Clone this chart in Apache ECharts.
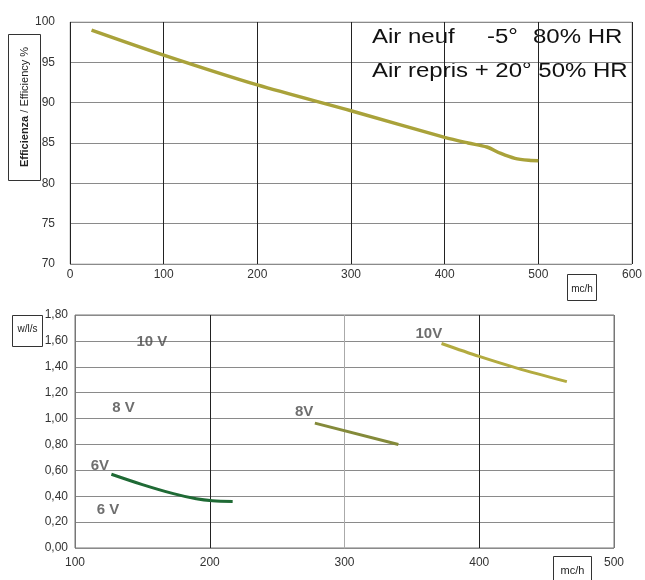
<!DOCTYPE html>
<html>
<head>
<meta charset="utf-8">
<script src="https://cdn.jsdelivr.net/npm/echarts@6/dist/echarts.min.js"></script>
<style>html,body{margin:0;padding:0;background:#fff}#c{width:645px;height:580px}</style>
</head>
<body>
<div id="c"></div>
<script>
// ---- Top chart: efficiency vs airflow ----
var effFlow = [23, 100, 200, 300, 400, 425, 445, 460, 475, 490, 500];
var effValue = [99.0, 95.9, 92.2, 89.0, 85.7, 85.0, 84.5, 83.7, 83.1, 82.85, 82.8];
var topXTicks = [0, 100, 200, 300, 400, 500, 600];
var topYTicks = [70, 75, 80, 85, 90, 95, 100];
var legendLine1 = ["Air neuf", "-5°", "80% HR"];
var legendLine2 = "Air repris + 20° 50% HR";

// ---- Bottom chart: specific power vs airflow ----
var v6Flow = [127, 150, 173, 190, 202, 217];
var v6Value = [0.57, 0.49, 0.42, 0.38, 0.365, 0.36];
var v8Flow = [278, 340];
var v8Value = [0.965, 0.80];
var v10Flow = [372, 400, 428, 465];
var v10Value = [1.58, 1.48, 1.39, 1.285];
var botXTicks = [100, 200, 300, 400, 500];
var botYTicks = [0, 0.2, 0.4, 0.6, 0.8, 1.0, 1.2, 1.4, 1.6, 1.8];
var noteText = ["10 V", "8 V", "6V", "6 V", "8V", "10V"];
var noteFlow = [157, 136, 118.5, 124.5, 270, 362.6];
var noteValue = [1.59, 1.08, 0.634, 0.294, 1.05, 1.654];

function zip(a, b) { return a.map(function (v, i) { return [v, b[i]]; }); }

var font = "'Liberation Sans', Arial, sans-serif";
var chart = echarts.init(document.getElementById('c'), null, { renderer: 'canvas' });

var legendFont = '20px ' + font;
chart.setOption({
  animation: false,
  backgroundColor: '#fff',
  grid: [
    { left: 70, top: 22, width: 564, height: 242, show: true, borderColor: '#bbb', borderWidth: 1, backgroundColor: 'transparent' },
    { left: 75, top: 315, width: 539, height: 233, show: true, borderColor: '#777', borderWidth: 1, backgroundColor: 'transparent' }
  ],
  xAxis: [
    {
      gridIndex: 0, type: 'value', min: topXTicks[0], max: topXTicks[topXTicks.length - 1], interval: 100,
      axisLine: { show: false }, axisTick: { show: false },
      axisLabel: { color: '#333', fontFamily: font, fontSize: 12, margin: 5 },
      splitLine: { show: true, lineStyle: { color: '#222', width: 1 } }
    },
    {
      gridIndex: 1, type: 'value', min: botXTicks[0], max: botXTicks[botXTicks.length - 1], interval: 100,
      axisLine: { show: false }, axisTick: { show: false },
      axisLabel: { color: '#333', fontFamily: font, fontSize: 12, margin: 9 },
      splitLine: { show: true, lineStyle: { color: ['#777', '#222', '#aaa', '#222', '#777'], width: 1 } }
    }
  ],
  yAxis: [
    {
      gridIndex: 0, type: 'value', min: topYTicks[0], max: topYTicks[topYTicks.length - 1], interval: 5,
      axisLine: { show: false }, axisTick: { show: false },
      axisLabel: { color: '#333', fontFamily: font, fontSize: 12, margin: 15 },
      splitLine: { show: true, lineStyle: { color: '#8a8a8a', width: 1 } }
    },
    {
      gridIndex: 1, type: 'value', min: botYTicks[0], max: botYTicks[botYTicks.length - 1], interval: 0.2,
      axisLine: { show: false }, axisTick: { show: false },
      axisLabel: {
        color: '#333', fontFamily: font, fontSize: 12, margin: 7,
        formatter: function (v) { return v.toFixed(2).replace('.', ','); }
      },
      splitLine: { show: true, lineStyle: { color: '#8a8a8a', width: 1 } }
    }
  ],
  series: [
    {
      type: 'line', xAxisIndex: 0, yAxisIndex: 0, data: zip(effFlow, effValue),
      smooth: 0.3, showSymbol: false, lineStyle: { color: '#a9a23a', width: 3.5 }
    },
    {
      type: 'line', xAxisIndex: 1, yAxisIndex: 1, data: zip(v6Flow, v6Value),
      smooth: 0.3, showSymbol: false, lineStyle: { color: '#1f6a35', width: 3 }
    },
    {
      type: 'line', xAxisIndex: 1, yAxisIndex: 1, data: zip(v8Flow, v8Value),
      smooth: 0.3, showSymbol: false, lineStyle: { color: '#848a3a', width: 3 }
    },
    {
      type: 'line', xAxisIndex: 1, yAxisIndex: 1, data: zip(v10Flow, v10Value),
      smooth: 0.3, showSymbol: false, lineStyle: { color: '#b3ab40', width: 3 }
    },
    {
      type: 'scatter', xAxisIndex: 1, yAxisIndex: 1, symbolSize: 0, silent: true,
      data: noteFlow.map(function (x, i) { return { value: [x, noteValue[i]], name: noteText[i] }; }),
      label: {
        show: true, position: 'inside', formatter: '{b}',
        fontFamily: font, fontWeight: 'bold', fontSize: 15, color: '#4a4a4a'
      }
    }
  ],
  graphic: [
    { type: 'text', x: 372, y: 27, scaleX: 1.2, style: { text: legendLine1[0], font: legendFont, fill: '#111' } },
    { type: 'text', x: 487, y: 27, scaleX: 1.2, style: { text: legendLine1[1], font: legendFont, fill: '#111' } },
    { type: 'text', x: 533, y: 27, scaleX: 1.2, style: { text: legendLine1[2], font: legendFont, fill: '#111' } },
    { type: 'text', x: 372, y: 61, scaleX: 1.2, style: { text: legendLine2, font: legendFont, fill: '#111' } },
    // y title box (top)
    { type: 'rect', shape: { x: 8.5, y: 34.5, width: 32, height: 146 }, style: { fill: '#fff', stroke: '#333', lineWidth: 1 } },
    {
      type: 'text', x: 25, y: 107, rotation: Math.PI / 2,
      style: {
        text: '{b|Efficienza} / Efficiency %', align: 'center', verticalAlign: 'middle',
        font: '11px ' + font, fill: '#222',
        rich: { b: { fontWeight: 'bold', fontSize: 11, fontFamily: font, fill: '#222' } }
      }
    },
    // mc/h box (top)
    { type: 'rect', shape: { x: 567.5, y: 274.5, width: 29, height: 26 }, style: { fill: '#fff', stroke: '#333', lineWidth: 1 } },
    { type: 'text', x: 582, y: 289, style: { text: 'mc/h', align: 'center', verticalAlign: 'middle', font: '10px ' + font, fill: '#222' } },
    // w/l/s box (bottom)
    { type: 'rect', shape: { x: 12.5, y: 315.5, width: 30, height: 31 }, style: { fill: '#fff', stroke: '#333', lineWidth: 1 } },
    { type: 'text', x: 27.5, y: 329, style: { text: 'w/l/s', align: 'center', verticalAlign: 'middle', font: '10px ' + font, fill: '#222' } },
    // mc/h box (bottom)
    { type: 'rect', shape: { x: 553.5, y: 556.5, width: 38, height: 28 }, style: { fill: '#fff', stroke: '#333', lineWidth: 1 } },
    { type: 'text', x: 572.5, y: 571, style: { text: 'mc/h', align: 'center', verticalAlign: 'middle', font: '11px ' + font, fill: '#222' } }
  ]
});
</script>
</body>
</html>
